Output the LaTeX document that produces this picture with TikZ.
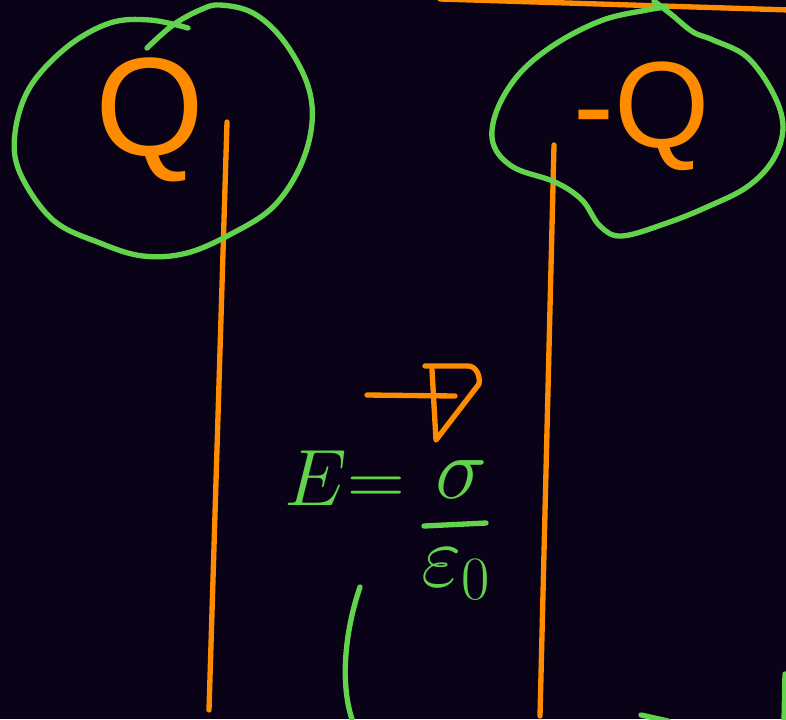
\documentclass[tikz,border=0pt]{standalone}
\usepackage{fix-cm}
\usepackage{fontspec}
\setmainfont{Liberation Sans}
\usetikzlibrary{positioning, calc}

\definecolor{board}{RGB}{10,2,22}
\definecolor{chalkorange}{RGB}{255,140,0}
\definecolor{chalkgreen}{RGB}{98,211,76}

\begin{document}
\begin{tikzpicture}[
      x=0.75pt, y=-0.75pt,
      ink/.style={line width=4pt, line cap=round, line join=round},
      plate/.style={ink, draw=chalkorange},
      loopline/.style={ink, draw=chalkgreen},
      charge/.style={text=chalkorange, inner sep=0pt, font=\fontsize{105}{105}\selectfont},
      mcharge/.style={charge, font=\fontsize{92}{92}\selectfont},
      eqtext/.style={text=chalkgreen, inner sep=0pt, font=\fontsize{60}{60}\selectfont},
      fractext/.style={eqtext, font=\fontsize{66}{66}\selectfont}
    ]
      % board
      \fill[board] (0,0) rectangle (786,719);
      \useasboundingbox (0,0) rectangle (786,719);

      % Plates
      \draw[plate] (227,122) -- (209,710);
      \draw[plate] (554,145) -- (540,716);
      \draw[plate] (440,-1) -- (790,10);

      % Charges
      \node[charge] (q) at (150,120) {Q};
      \node[mcharge] (mq) at (642,116) {-Q};

      % Gaussian loops
      \draw[loopline] plot[smooth, tension=0.6] coordinates {
        (147,48) (173,25) (200,10) (220,5) (253,13) (283,40) (307,83) (312,123)
        (300,167) (273,207) (233,233) (187,253) (143,256) (100,243) (53,220)
        (20,173) (15,133) (30,87) (67,47) (110,23) (150,20) (188,28)};
      \draw[loopline] plot[smooth, tension=0.6] coordinates {
        (654,1) (672,15) (693,32) (713,40) (747,57) (773,93) (783,127) (773,160)
        (747,187) (707,207) (667,223) (622,236) (600,226) (582,200) (555,182)
        (513,167) (493,143) (497,110) (520,73) (557,43) (603,20) (647,10) (667,7)};

      % Field
      \node[eqtext] (efield) at (345,478) {$E{=}$};
      \node[fractext] (sig) at (462,480) {$\sigma$};
      \node[fractext] (eps) at (456,574) {$\varepsilon_0$};
      \draw[loopline] (424,526) -- (486,523);

      % Direction mark
      \draw[plate] (367,395) -- (455,396);
      \draw[plate] (425,366) -- (468,366) to[out=0, in=80] (479,384) -- (436,440) -- (432,370);

      % Stray strokes
      \draw[loopline] (360,587) .. controls (342,640) and (342,690) .. (352,719);
      \draw[loopline] (641,715) -- (668,721);
      \draw[loopline] (785,674) -- (784,721);
    \end{tikzpicture}
\end{document}
